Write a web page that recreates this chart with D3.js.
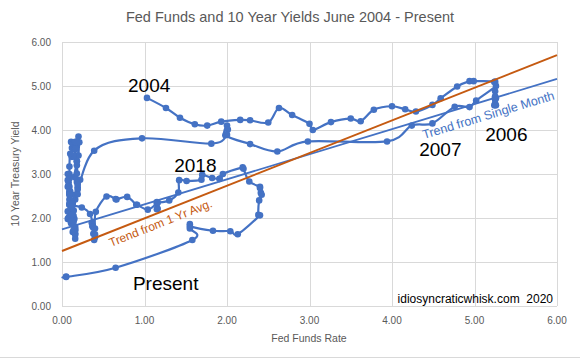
<!DOCTYPE html>
<html>
<head>
<meta charset="utf-8">
<script src="https://cdn.jsdelivr.net/npm/d3@7"></script>
<style>
  html, body { margin: 0; padding: 0; background: #fff; }
  svg { display: block; font-family: "Liberation Sans", Arial, sans-serif; }
</style>
</head>
<body>
<svg id="chart" width="580" height="361"></svg>
<script>
// Monthly data, June 2004 - May 2020
const fedFunds = [
  1.03, 1.26, 1.43, 1.61, 1.76, 1.93, 2.16,
  2.28, 2.50, 2.63, 2.79, 3.00, 3.04, 3.26, 3.50, 3.62, 3.78, 4.00, 4.16,
  4.29, 4.49, 4.59, 4.79, 4.94, 4.99, 5.24, 5.25, 5.25, 5.25, 5.25, 5.24,
  5.25, 5.26, 5.26, 5.25, 5.25, 5.25, 5.26, 5.02, 4.94, 4.76, 4.49, 4.24,
  3.94, 2.98, 2.61, 2.28, 1.98, 2.00, 2.01, 2.00, 1.81, 0.97, 0.39, 0.16,
  0.15, 0.22, 0.18, 0.15, 0.18, 0.21, 0.16, 0.16, 0.15, 0.12, 0.12, 0.12,
  0.11, 0.13, 0.16, 0.20, 0.20, 0.18, 0.18, 0.19, 0.19, 0.19, 0.19, 0.18,
  0.17, 0.16, 0.14, 0.10, 0.09, 0.09, 0.07, 0.10, 0.08, 0.07, 0.08, 0.07,
  0.08, 0.10, 0.13, 0.14, 0.16, 0.16, 0.16, 0.13, 0.14, 0.16, 0.16, 0.16,
  0.14, 0.15, 0.14, 0.15, 0.11, 0.09, 0.09, 0.08, 0.08, 0.09, 0.08, 0.09,
  0.07, 0.07, 0.08, 0.09, 0.09, 0.10, 0.09, 0.09, 0.09, 0.09, 0.09, 0.12,
  0.11, 0.11, 0.11, 0.12, 0.12, 0.13, 0.13, 0.14, 0.14, 0.12, 0.12, 0.24,
  0.34, 0.38, 0.36, 0.37, 0.37, 0.38, 0.39, 0.40, 0.40, 0.40, 0.41, 0.54,
  0.65, 0.66, 0.79, 0.90, 0.91, 1.04, 1.15, 1.16, 1.15, 1.15, 1.16, 1.30,
  1.41, 1.42, 1.51, 1.69, 1.70, 1.82, 1.91, 1.91, 1.95, 2.19, 2.20, 2.27,
  2.40, 2.40, 2.41, 2.42, 2.39, 2.38, 2.40, 2.13, 2.04, 1.83, 1.55, 1.55,
  1.55, 1.58, 0.65, 0.05, 0.05
];
const tenYear = [
  4.73, 4.50, 4.28, 4.13, 4.10, 4.19, 4.23,
  4.22, 4.17, 4.50, 4.34, 4.14, 4.00, 4.18, 4.26, 4.20, 4.46, 4.54, 4.47,
  4.42, 4.57, 4.72, 4.99, 5.11, 5.11, 5.09, 4.88, 4.72, 4.73, 4.60, 4.56,
  4.76, 4.72, 4.56, 4.69, 4.75, 5.10, 5.00, 4.67, 4.52, 4.53, 4.15, 4.10,
  3.74, 3.74, 3.51, 3.68, 3.88, 4.10, 4.01, 3.89, 3.69, 3.81, 3.53, 2.42,
  2.52, 2.87, 2.82, 2.93, 3.29, 3.72, 3.56, 3.59, 3.40, 3.39, 3.40, 3.59,
  3.73, 3.69, 3.73, 3.85, 3.42, 3.20, 3.01, 2.70, 2.65, 2.54, 2.76, 3.29,
  3.39, 3.58, 3.41, 3.46, 3.17, 3.00, 3.00, 2.30, 1.98, 2.15, 2.01, 1.98,
  1.97, 1.97, 2.17, 2.05, 1.80, 1.62, 1.53, 1.68, 1.72, 1.75, 1.65, 1.72,
  1.91, 1.98, 1.96, 1.76, 1.93, 2.30, 2.58, 2.74, 2.81, 2.62, 2.72, 2.90,
  2.86, 2.71, 2.72, 2.71, 2.56, 2.60, 2.54, 2.42, 2.53, 2.30, 2.33, 2.21,
  1.88, 1.98, 2.04, 1.94, 2.20, 2.36, 2.32, 2.17, 2.17, 2.07, 2.26, 2.24,
  2.09, 1.78, 1.89, 1.81, 1.81, 1.64, 1.50, 1.56, 1.63, 1.76, 2.14, 2.49,
  2.43, 2.42, 2.48, 2.30, 2.30, 2.19, 2.32, 2.21, 2.20, 2.36, 2.35, 2.40,
  2.58, 2.86, 2.84, 2.87, 2.98, 2.91, 2.89, 2.89, 3.00, 3.15, 3.12, 2.83,
  2.71, 2.68, 2.57, 2.53, 2.40, 2.07, 2.06, 1.63, 1.70, 1.71, 1.81, 1.86,
  1.76, 1.50, 0.87, 0.66, 0.67
];
// Trend lines: [intercept, slope]
const trendOneYrAvg = [1.25, 0.742];
const trendSingleMonth = [1.74, 0.57];
const trendRange = [0, 6];
const xTicks = [0, 1, 2, 3, 4, 5, 6];
const yTicks = [0, 1, 2, 3, 4, 5, 6];
const annotations = [
  { text: "2004", x: 0.80, y: 4.86 },
  { text: "2018", x: 1.36, y: 3.05 },
  { text: "2007", x: 4.33, y: 3.41 },
  { text: "2006", x: 5.13, y: 3.75 },
  { text: "Present", x: 0.86, y: 0.36 }
];

const svg = d3.select("#chart");
const x = d3.scaleLinear().domain([0, 6]).range([62, 557]);
const y = d3.scaleLinear().domain([0, 6]).range([306, 42]);
const grey = "#595959";
const blue = "#4472C4";
const orange = "#C55A11";

// gridlines
svg.append("g").selectAll("line").data(yTicks).join("line")
  .attr("x1", x(0)).attr("x2", x(6))
  .attr("y1", d => Math.round(y(d)) + 0.5).attr("y2", d => Math.round(y(d)) + 0.5)
  .attr("stroke", "#D9D9D9").attr("stroke-width", 1);
svg.append("g").selectAll("line").data(xTicks).join("line")
  .attr("y1", y(0)).attr("y2", y(6))
  .attr("x1", d => Math.round(x(d)) + 0.5).attr("x2", d => Math.round(x(d)) + 0.5)
  .attr("stroke", "#D9D9D9").attr("stroke-width", 1);

// tick labels
svg.append("g").selectAll("text").data(yTicks).join("text")
  .attr("x", 51).attr("y", d => y(d) + 3.5)
  .attr("text-anchor", "end").attr("font-size", 10).attr("fill", grey)
  .text(d => d3.format(".2f")(d));
svg.append("g").selectAll("text").data(xTicks).join("text")
  .attr("x", d => x(d)).attr("y", 324)
  .attr("text-anchor", "middle").attr("font-size", 10).attr("fill", grey)
  .text(d => d3.format(".2f")(d));

// axis titles
svg.append("text").attr("x", 309).attr("y", 342).attr("text-anchor", "middle")
  .attr("font-size", 10.5).attr("fill", grey).text("Fed Funds Rate");
svg.append("text").attr("transform", `translate(19,${(y(0) + y(6)) / 2}) rotate(-90)`)
  .attr("text-anchor", "middle").attr("font-size", 10.5).attr("fill", grey)
  .text("10 Year Treasury Yield");

// title
svg.append("text").attr("x", 290).attr("y", 22).attr("text-anchor", "middle")
  .attr("font-size", 14.5).attr("fill", grey)
  .text("Fed Funds and 10 Year Yields June 2004 - Present");

// data series
const pts = fedFunds.map((f, i) => [f, tenYear[i]]);
const line = d3.line().x(d => x(d[0])).y(d => y(d[1])).curve(d3.curveCatmullRom.alpha(0));
svg.append("path").datum(pts).attr("d", line)
  .attr("fill", "none").attr("stroke", blue).attr("stroke-width", 2.2)
  .attr("stroke-linejoin", "round");
svg.append("g").selectAll("circle").data(pts).join("circle")
  .attr("cx", d => x(d[0])).attr("cy", d => y(d[1])).attr("r", 3.3)
  .attr("fill", blue);

// trend lines
function trendLine(t, color, w) {
  svg.append("line")
    .attr("x1", x(trendRange[0])).attr("y1", y(t[0] + t[1] * trendRange[0]))
    .attr("x2", x(trendRange[1])).attr("y2", y(t[0] + t[1] * trendRange[1]))
    .attr("stroke", color).attr("stroke-width", w);
}
trendLine(trendSingleMonth, blue, 1.8);
trendLine(trendOneYrAvg, orange, 2);

function angleOf(t) {
  const dx = x(1) - x(0);
  const dy = y(t[0] + t[1]) - y(t[0]);
  return Math.atan2(dy, dx) * 180 / Math.PI;
}
svg.append("text")
  .attr("transform", `translate(111,247) rotate(${angleOf(trendOneYrAvg)})`)
  .attr("font-size", 12).attr("fill", orange).text("Trend from 1 Yr Avg.");
svg.append("text")
  .attr("transform", `translate(424,139) rotate(${angleOf(trendSingleMonth)})`)
  .attr("font-size", 12.5).attr("fill", blue).text("Trend from Single Month");

// annotations
svg.append("g").selectAll("text").data(annotations).join("text")
  .attr("x", d => x(d.x)).attr("y", d => y(d.y))
  .attr("font-size", 19).attr("fill", "#000")
  .text(d => d.text);

// watermark
svg.append("text").attr("x", 553).attr("y", 303).attr("text-anchor", "end")
  .attr("font-size", 12).attr("fill", "#000")
  .attr("xml:space", "preserve").style("white-space", "pre")
  .text("idiosyncraticwhisk.com  2020");

// chart border bottom
svg.append("line").attr("x1", 0).attr("x2", 580).attr("y1", 357.5).attr("y2", 357.5)
  .attr("stroke", "#D9D9D9");
</script>
</body>
</html>
